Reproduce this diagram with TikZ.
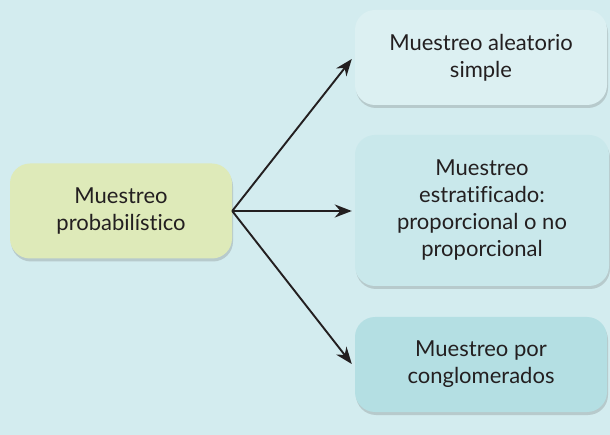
\documentclass[tikz,border=0pt]{standalone}
\usepackage{fontspec}
\setmainfont{Lato}[Ligatures=NoCommon]
\usetikzlibrary{shadows,arrows.meta}
\definecolor{bgc}{HTML}{D3ECEF}
\definecolor{greenbox}{HTML}{DEEAB9}
\definecolor{boxa}{HTML}{DCF0F2}
\definecolor{boxb}{HTML}{C9E8EB}
\definecolor{boxc}{HTML}{B4DFE3}
\definecolor{linec}{HTML}{231F20}
\tikzset{
  rbox/.style={rounded corners=20pt, align=center, inner sep=0pt,
    font=\fontsize{22}{27}\selectfont, text=linec,
    drop shadow={shadow xshift=1pt, shadow yshift=-3pt, opacity=0.25, fill=black!60}},
  conn/.style={draw=linec, line width=1.9pt, -{Stealth[length=17pt,width=13pt]}}
}
\begin{document}
\begin{tikzpicture}[x=1pt,y=-1pt]
\fill[bgc] (0,0) rectangle (610,435);
\useasboundingbox (0,0) rectangle (610,435);
\node[rbox, fill=greenbox, minimum width=222pt, minimum height=95pt] (src) at (121,211) {Muestreo\\probabilístico};
\node[rbox, fill=boxa, minimum width=252pt, minimum height=95pt] (a) at (481,57.5) {Muestreo aleatorio\\simple};
\node[rbox, fill=boxb, minimum width=254pt, minimum height=151pt] (b) at (482,210.5) {Muestreo\\estratificado:\\proporcional o no\\proporcional};
\node[rbox, fill=boxc, minimum width=252pt, minimum height=95pt] (c) at (481,364.5) {Muestreo por\\conglomerados};
\coordinate (o) at (src.east);
\draw[conn] (o) -- ([xshift=-3pt]a.west |- 0,59);
\draw[conn] (o) -- ([xshift=-3pt]b.west |- o);
\draw[conn] (o) -- ([xshift=-3pt]c.west |- 0,364);
\end{tikzpicture}
\end{document}
